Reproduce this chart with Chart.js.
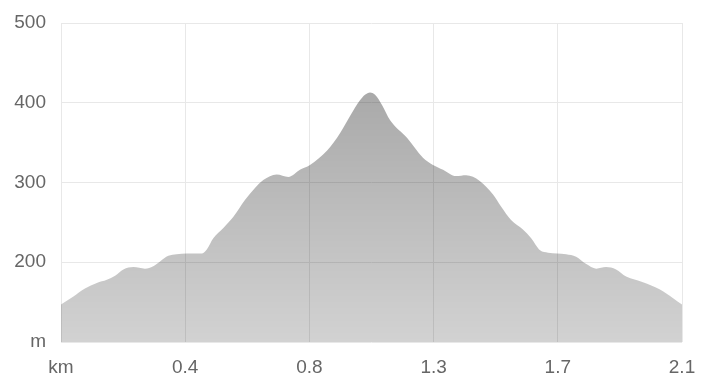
<!DOCTYPE html>
<html>
<head>
<meta charset="utf-8">
<script src="https://cdn.jsdelivr.net/npm/chart.js@4/dist/chart.umd.min.js"></script>
<style>
  html, body { margin: 0; padding: 0; background: #fff; }
  .chart-container { position: relative; width: 713px; height: 392px; }
</style>
</head>
<body>
<section class="chart-container">
  <canvas id="profile-chart"></canvas>
</section>
<script>
// distance along the track (km) and elevation (m)
const distKm = [
  0, 0.042, 0.081, 0.121, 0.155, 0.183, 0.211, 0.245, 0.284, 0.312,
  0.335, 0.363, 0.391, 0.425, 0.476, 0.493, 0.515, 0.549, 0.583, 0.622,
  0.656, 0.684, 0.729, 0.769, 0.808, 0.842, 0.9, 0.944, 0.977, 1.011,
  1.028, 1.045, 1.062, 1.086, 1.113, 1.17, 1.224, 1.258, 1.292, 1.336,
  1.37, 1.416, 1.461, 1.488, 1.522, 1.562, 1.59, 1.62, 1.647, 1.708,
  1.742, 1.775, 1.81, 1.843, 1.877, 1.911, 1.968, 2.024, 2.07, 2.1
];
const elevation = [
  147, 157, 167, 174, 178, 183, 191, 194, 192, 195,
  201, 208, 210, 211, 211, 216, 230, 243, 257, 278,
  293, 303, 310, 307, 316, 322, 340, 362, 383, 403,
  410, 413, 410, 397, 378, 356, 331, 322, 316, 308,
  309, 302, 285, 270, 253, 241, 230, 215, 212, 210,
  207, 198, 192, 194, 191, 182, 175, 166, 155, 147
];

const xTicks = [0, 0.42, 0.84, 1.26, 1.68, 2.1];
const xTickLabels = ["km", "0.4", "0.8", "1.3", "1.7", "2.1"];
const yTicks = [100, 200, 300, 400, 500];
const yTickLabels = ["m", "200", "300", "400", "500"];

const points = distKm.map((d, i) => ({ x: d, y: elevation[i] }));

function areaGradient(context) {
  const area = context.chart.chartArea;
  if (!area) return "rgba(0,0,0,0.25)";
  const g = context.chart.ctx.createLinearGradient(0, area.top, 0, area.bottom);
  g.addColorStop(0, "rgba(0,0,0,0.38)");
  g.addColorStop(1, "rgba(0,0,0,0.175)");
  return g;
}

const canvas = document.getElementById("profile-chart");

new Chart(canvas, {
  type: "line",
  data: {
    datasets: [
      {
        data: points,
        fill: "start",
        backgroundColor: areaGradient,
        borderWidth: 0,
        pointRadius: 0,
        cubicInterpolationMode: "monotone",
      },
    ],
  },
  options: {
    responsive: true,
    maintainAspectRatio: false,
    animation: false,
    layout: {
      padding: { left: 0, right: 31, top: 23, bottom: 0 },
    },
    plugins: {
      legend: { display: false },
      tooltip: { enabled: false },
    },
    scales: {
      x: {
        type: "linear",
        min: 0,
        max: 2.1,
        afterBuildTicks: (axis) => {
          axis.ticks = xTicks.map((v) => ({ value: v }));
        },
        afterFit: (axis) => {
          axis.height = 50;
        },
        border: { display: false },
        grid: { color: "#e8e8e8", drawTicks: false },
        ticks: {
          padding: 14,
          color: "#666",
          font: { size: 19 },
          maxRotation: 0,
          autoSkip: false,
          callback: (value, index) => xTickLabels[index],
        },
      },
      y: {
        min: 100,
        max: 500,
        afterBuildTicks: (axis) => {
          axis.ticks = yTicks.map((v) => ({ value: v }));
        },
        afterFit: (axis) => {
          axis.width = 61;
          // label padding would otherwise push the plot area down
          axis.paddingTop = 0;
          axis.paddingBottom = 0;
        },
        border: { display: false },
        grid: { color: "#e8e8e8", drawTicks: false },
        ticks: {
          padding: 15,
          color: "#666",
          font: { size: 19 },
          callback: (value, index) => yTickLabels[index],
        },
      },
    },
  },
});
</script>
</body>
</html>
